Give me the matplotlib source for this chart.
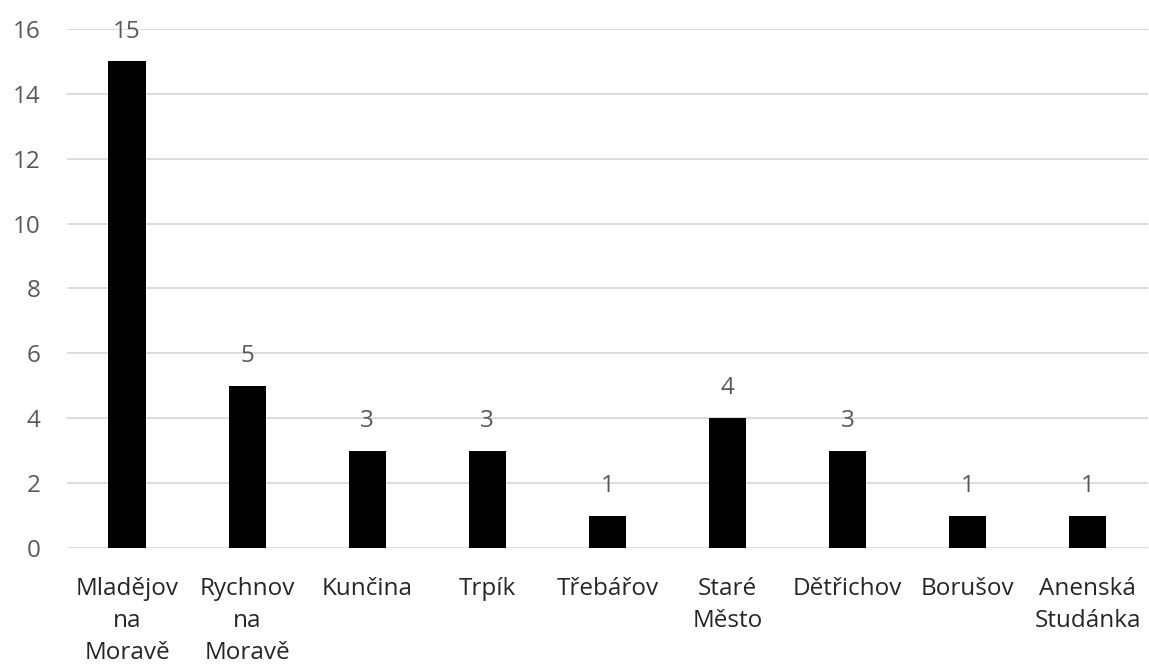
import matplotlib
matplotlib.use("Agg")
from matplotlib import pyplot as plt

# data
places = ['Mladějov\nna\nMoravě', 'Rychnov\nna\nMoravě', 'Kunčina', 'Trpík', 'Třebářov',
          'Staré\nMěsto', 'Dětřichov', 'Borušov', 'Anenská\nStudánka']
counts = [15, 5, 3, 3, 1, 4, 3, 1, 1]
yticks = [0, 2, 4, 6, 8, 10, 12, 14, 16]

plt.rcParams['font.family'] = ['Open Sans', 'DejaVu Sans']

f = plt.figure(figsize=(11.49, 6.71), dpi=100)
ax = f.add_axes([0.0583, 0.1833, 0.9407, 0.7735])

x = range(len(places))
ax.bar(x, counts, width=0.31, color='black', zorder=3)
for xi, c in zip(x, counts):
    ax.text(xi, c + 0.55, str(c), ha='center', va='bottom', fontsize=17.5, color='#595959')

ax.set_xlim(-0.5, len(places) - 0.5)
ax.set_ylim(0, 16)
ax.set_yticks(yticks)
ax.set_yticklabels([str(t) for t in yticks], fontsize=17.5, color='#595959')
ax.set_xticks(list(x))
ax.set_xticklabels(places, fontsize=17.5, color='#262626', linespacing=1.45)
ax.tick_params(axis='both', length=0)
ax.tick_params(axis='y', pad=19)
ax.tick_params(axis='x', pad=21)
ax.grid(axis='y', color='#d9d9d9', linewidth=1.3, zorder=0)
for s in ax.spines.values():
    s.set_visible(False)

f.savefig('out.png', dpi=100)
